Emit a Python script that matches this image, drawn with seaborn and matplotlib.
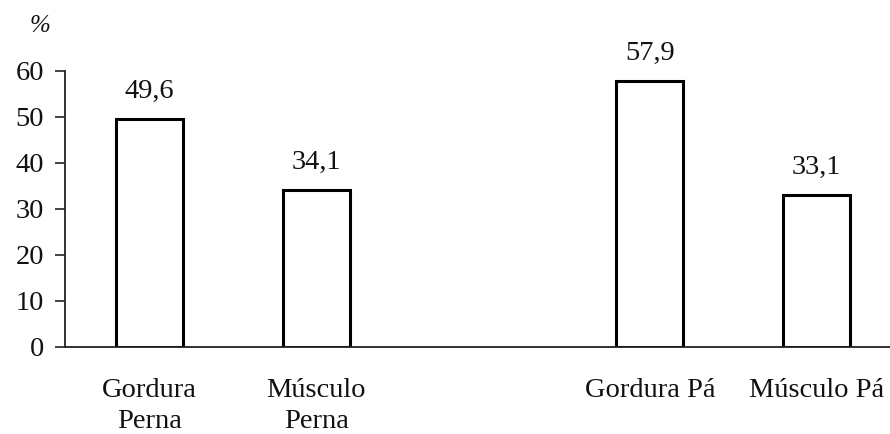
import matplotlib
matplotlib.use("Agg")
import matplotlib.pyplot as plt
import seaborn as sns
import pandas as pd

categories = ["Gordura\nPerna", "Músculo\nPerna", "Gordura Pá", "Músculo Pá"]
values = [49.6, 34.1, 57.9, 33.1]
value_labels = ["49,6", "34,1", "57,9", "33,1"]
yticks = [0, 10, 20, 30, 40, 50, 60]

sns.set_theme(style="white")
plt.rcParams["font.family"] = ["Liberation Serif", "DejaVu Serif"]

df = pd.DataFrame({"cat": categories, "val": values})
# blank slot separates the leg (Perna) group from the shoulder (Pá) group
order = [categories[0], categories[1], " ", categories[2], categories[3]]

FS = 20.5
fig = plt.figure(figsize=(8.9, 4.34), dpi=100)
ax = fig.add_axes([0.073, 0.2005, 0.927, 0.636])

sns.barplot(data=df, x="cat", y="val", order=order, ax=ax, width=0.4,
            color="white", edgecolor="black", linewidth=2.2, saturation=1)

ax.set_ylim(0, 60)
ax.set_xlim(-0.507, 4.44)
ax.set_yticks(yticks)
ax.set_yticklabels([str(t) for t in yticks], fontsize=FS, color="#111111")
ax.set_xticks(range(len(order)))
ax.set_xticklabels(order, fontsize=FS, color="#111111", linespacing=1.32)
ax.tick_params(axis="x", length=0, pad=22)
ax.tick_params(axis="y", length=7, width=1.2, color="#222222", pad=8, left=True)
ax.set_xlabel("")
ax.set_ylabel("")

for side in ["top", "right"]:
    ax.spines[side].set_visible(False)
for side in ["left", "bottom"]:
    ax.spines[side].set_color("#222222")
    ax.spines[side].set_linewidth(1.3)

positions = [0, 1, 3, 4]
for x, v, lab in zip(positions, values, value_labels):
    ax.annotate(lab, (x, v), xytext=(0, 15), textcoords="offset points",
                ha="center", va="baseline", fontsize=FS, color="#111111",
                annotation_clip=False)

fig.text(0.045, 0.94, "%", fontsize=18, fontstyle="italic", ha="center",
         va="center", color="#111111")

fig.savefig("out.png", dpi=100)
